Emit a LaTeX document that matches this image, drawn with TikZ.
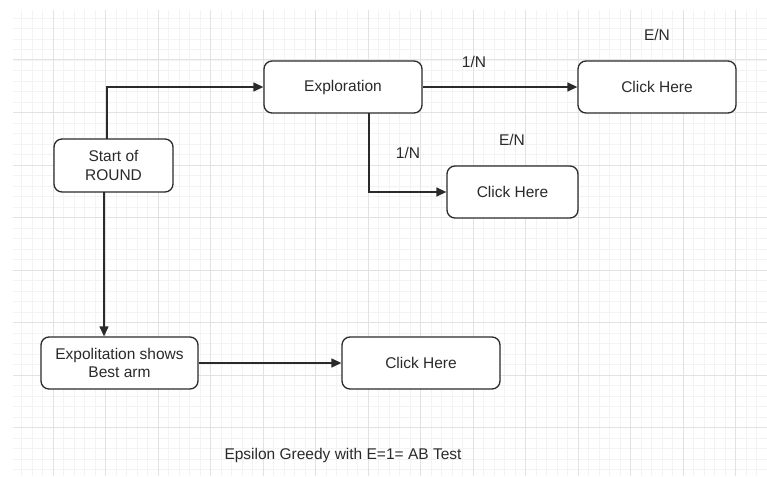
\documentclass[tikz,border=0pt]{standalone}
\usepackage{fontspec}
\setmainfont{Liberation Sans}
\usetikzlibrary{arrows.meta}
\definecolor{minorgrid}{HTML}{F3F3F3}
\definecolor{majorgrid}{HTML}{E2E2E2}
\definecolor{ink}{HTML}{2A2A2A}
\begin{document}
\begin{tikzpicture}[x=1pt,y=-1pt,
  box/.style={draw=ink, line width=1.3pt, rounded corners=8pt, fill=white, text=ink,
    font=\fontsize{15.5}{18.5}\selectfont, align=center, inner sep=0pt},
  conn/.style={draw=ink, line width=1.3pt, -{Triangle[length=10pt,width=9pt]}},
  lbl/.style={text=ink, font=\fontsize{15.5}{18.5}\selectfont, inner sep=0pt}]
\useasboundingbox (0,0) rectangle (767,476);
\fill[white] (0,0) rectangle (767,476);
% grid
\foreach \i in {0,...,72} {
  \pgfmathsetmacro\xx{53+(\i-4)*10.5}
  \ifdim\xx pt>13pt \ifdim\xx pt<767pt \draw[minorgrid, line width=0.8pt] (\xx,10) -- (\xx,476); \fi\fi
}
\foreach \i in {0,...,46} {
  \pgfmathsetmacro\yy{60+(\i-4)*10.5}
  \ifdim\yy pt>10pt \ifdim\yy pt<476pt \draw[minorgrid, line width=0.8pt] (13,\yy) -- (767,\yy); \fi\fi
}
\foreach \i in {0,...,13} { \draw[majorgrid, line width=1pt] (53+\i*52.5,10) -- (53+\i*52.5,476); }
\foreach \i in {0,...,7} { \draw[majorgrid, line width=1pt] (13,60+\i*52.5) -- (767,60+\i*52.5); }
% nodes
\node[box, minimum width=119pt, minimum height=53pt] (start) at (113.5,165.5) {Start of\\ROUND};
\node[box, minimum width=158pt, minimum height=52pt] (explore) at (343,87) {Exploration};
\node[box, minimum width=158pt, minimum height=52pt] (click1) at (657,87) {Click Here};
\node[box, minimum width=131pt, minimum height=52pt] (click2) at (512.5,192) {Click Here};
\node[box, minimum width=157pt, minimum height=52pt] (exploit) at (119.5,363) {Expolitation shows\\Best arm};
\node[box, minimum width=158pt, minimum height=52pt] (click3) at (421,363) {Click Here};
% connectors
\coordinate (sa) at (107,139);
\coordinate (sb) at (104,192);
\coordinate (ea) at (369,113);
\draw[conn] (sa) |- (explore.west);
\draw[conn] (sb) -- (sb |- exploit.north);
\draw[conn] (explore.east) -- (click1.west);
\draw[conn] (ea) |- (click2.west);
\draw[conn] (exploit.east) -- (click3.west);
% labels
\node[lbl] (l1) at (474,62) {1/N};
\node[lbl] (l2) at (657,35) {E/N};
\node[lbl] (l3) at (512,140) {E/N};
\node[lbl] (l4) at (408,153) {1/N};
\node[lbl] (cap) at (343,455) {Epsilon Greedy with E=1= AB Test};
\end{tikzpicture}
\end{document}
